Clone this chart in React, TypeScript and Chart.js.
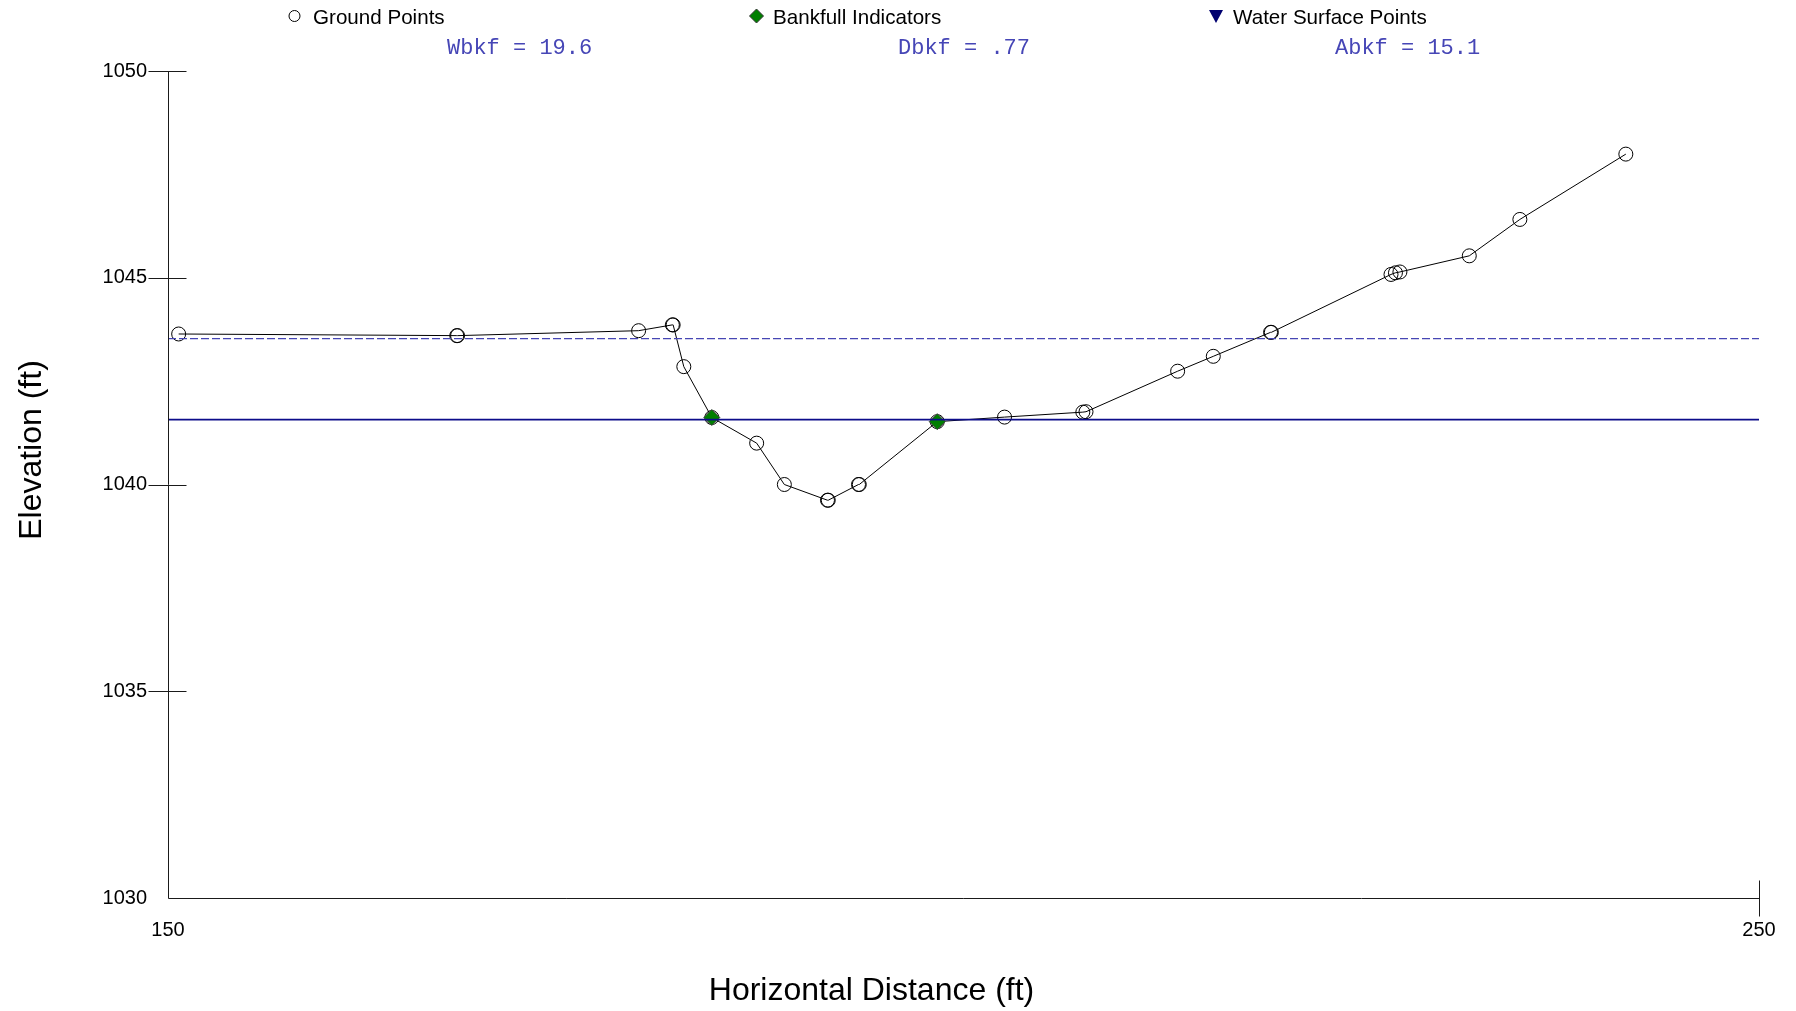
import { useEffect, useRef } from 'react';
import { Chart, registerables } from 'chart.js';

Chart.register(...registerables);

// ---------- data ----------
const groundX = [
  150.67, 168.15, 168.2, 179.58, 181.7, 181.75, 182.42, 184.18, 187.0, 188.74,
  191.45, 191.5, 193.4, 193.45, 198.35, 202.58, 207.5, 207.7, 213.46, 215.7,
  219.3, 219.35, 226.87, 227.15, 227.43, 231.79, 234.97, 241.63,
];
const groundY = [
  1043.64, 1043.6, 1043.6, 1043.72, 1043.86, 1043.86, 1042.85, 1041.62, 1041.0, 1040.0,
  1039.62, 1039.62, 1040.0, 1040.0, 1041.52, 1041.63, 1041.75, 1041.76, 1042.74, 1043.1,
  1043.68, 1043.68, 1045.08, 1045.12, 1045.14, 1045.53, 1046.41, 1047.99,
];
const bankfullX = [184.18, 198.35];
const bankfullY = [1041.62, 1041.52];
const waterSurfaceX: number[] = [];
const waterSurfaceY: number[] = [];
const bankfullElevation = 1041.57;
const floodproneElevation = 1043.53;

const xRange = [150, 250];
const yRange = [1030, 1050];
const xTickValues = [150, 250];
const yTickValues = [1030, 1035, 1040, 1045, 1050];

const legendLabels = ['Ground Points', 'Bankfull Indicators', 'Water Surface Points'];
const summaryLabels = ['Wbkf = 19.6', 'Dbkf = .77', 'Abkf = 15.1'];
const xTitle = 'Horizontal Distance (ft)';
const yTitle = 'Elevation (ft)';

// ---------- styles ----------
const SANS = 'Arial, "Liberation Sans", sans-serif';
const MONO = '"Liberation Mono", "Courier New", monospace';
const GREEN = '#007f00';
const NAVY = '#000070';
const SOLID_BLUE = '#0c0c8a';
const DASH_BLUE = '#4646b4';
const TEXT_BLUE = '#4646b6';

const toXY = (xs: number[], ys: number[]) => xs.map((x, i) => ({ x, y: ys[i] }));

const overlayPlugin = {
  id: 'overlay',
  afterDraw(chart: any) {
    const { ctx, chartArea: a, scales } = chart;
    const xs = scales.x;
    const ys = scales.y;
    ctx.save();

    // axes lines and tick marks
    ctx.strokeStyle = '#1a1a1a';
    ctx.lineWidth = 1;
    const lx = Math.round(a.left) + 0.5;
    const by = Math.round(a.bottom) + 0.5;
    ctx.beginPath();
    ctx.moveTo(lx, a.top);
    ctx.lineTo(lx, by);
    ctx.lineTo(a.right, by);
    for (const v of yTickValues) {
      if (v === yRange[0]) continue;
      const py = Math.round(ys.getPixelForValue(v)) + 0.5;
      ctx.moveTo(lx - 20, py);
      ctx.lineTo(lx + 18, py);
    }
    for (const v of xTickValues) {
      if (v === xRange[0]) continue;
      const px = Math.round(xs.getPixelForValue(v)) + 0.5;
      ctx.moveTo(px, by - 18);
      ctx.lineTo(px, by + 18);
    }
    ctx.stroke();

    // axis titles
    ctx.fillStyle = '#000';
    ctx.font = `32px ${SANS}`;
    ctx.textAlign = 'center';
    ctx.textBaseline = 'alphabetic';
    ctx.fillText(xTitle, 871.5, 1000);
    ctx.save();
    ctx.translate(41, 450);
    ctx.rotate(-Math.PI / 2);
    ctx.fillText(yTitle, 0, 0);
    ctx.restore();

    // legend
    const legendX = [294.5, 756.5, 1216];
    const legendTextX = [313, 773, 1233];
    const ly = 16;
    ctx.beginPath();
    ctx.arc(legendX[0], ly, 5.5, 0, Math.PI * 2);
    ctx.strokeStyle = '#000';
    ctx.lineWidth = 1;
    ctx.stroke();
    ctx.beginPath();
    ctx.moveTo(legendX[1], ly - 7);
    ctx.lineTo(legendX[1] + 7, ly);
    ctx.lineTo(legendX[1], ly + 7);
    ctx.lineTo(legendX[1] - 7, ly);
    ctx.closePath();
    ctx.fillStyle = GREEN;
    ctx.fill();
    ctx.strokeStyle = '#333';
    ctx.stroke();
    ctx.beginPath();
    ctx.moveTo(legendX[2] - 7, ly - 6);
    ctx.lineTo(legendX[2] + 7, ly - 6);
    ctx.lineTo(legendX[2], ly + 7);
    ctx.closePath();
    ctx.fillStyle = NAVY;
    ctx.fill();

    ctx.fillStyle = '#000';
    ctx.font = `20.6px ${SANS}`;
    ctx.textAlign = 'left';
    ctx.textBaseline = 'alphabetic';
    legendLabels.forEach((t, i) => ctx.fillText(t, legendTextX[i], 23.5));

    // summary annotations
    ctx.fillStyle = TEXT_BLUE;
    ctx.font = `22px ${MONO}`;
    const sx = [447, 898, 1335];
    summaryLabels.forEach((t, i) => ctx.fillText(t, sx[i], 54));

    ctx.restore();
  },
};

export default function App() {
  const canvasRef = useRef<HTMLCanvasElement | null>(null);

  useEffect(() => {
    const canvas = canvasRef.current;
    if (!canvas) return;
    const chart = new Chart(canvas, {
      type: 'scatter',
      data: {
        datasets: [
          {
            label: 'Bankfull stage',
            data: toXY(xRange, [bankfullElevation, bankfullElevation]),
            showLine: true,
            borderColor: SOLID_BLUE,
            borderWidth: 1.6,
            pointRadius: 0,
          },
          {
            label: 'Flood-prone',
            data: toXY(xRange, [floodproneElevation, floodproneElevation]),
            showLine: true,
            borderColor: DASH_BLUE,
            borderWidth: 1.2,
            borderDash: [8, 3],
            pointRadius: 0,
          },
          {
            label: legendLabels[1],
            data: toXY(bankfullX, bankfullY),
            pointStyle: 'rectRot',
            pointRadius: 8,
            pointBackgroundColor: GREEN,
            pointBorderColor: '#444',
            pointBorderWidth: 1,
            showLine: false,
          },
          {
            label: legendLabels[0],
            data: toXY(groundX, groundY),
            showLine: true,
            borderColor: '#000',
            borderWidth: 1,
            pointStyle: 'circle',
            pointRadius: 7,
            pointBackgroundColor: 'rgba(0,0,0,0)',
            pointBorderColor: '#000',
            pointBorderWidth: 1,
          },
          {
            label: legendLabels[2],
            data: toXY(waterSurfaceX, waterSurfaceY),
            pointStyle: 'triangle',
            rotation: 180,
            pointRadius: 7,
            pointBackgroundColor: NAVY,
            showLine: false,
          },
        ],
      },
      options: {
        animation: false,
        responsive: false,
        devicePixelRatio: 1,
        layout: { padding: { left: 0, top: 71, right: 37, bottom: 0 } },
        plugins: { legend: { display: false }, tooltip: { enabled: false } },
        scales: {
          x: {
            type: 'linear',
            min: xRange[0],
            max: xRange[1],
            afterFit: (s: any) => {
              s.height = 113;
            },
            afterBuildTicks: (s: any) => {
              s.ticks = xTickValues.map((v) => ({ value: v }));
            },
            grid: { display: false, drawTicks: false },
            border: { display: false },
            ticks: {
              padding: 20,
              autoSkip: false,
              maxRotation: 0,
              color: '#000',
              font: { family: SANS, size: 20 },
              callback: (v: any) => String(v),
            },
          },
          y: {
            type: 'linear',
            min: yRange[0],
            max: yRange[1],
            afterFit: (s: any) => {
              s.width = 168;
            },
            afterBuildTicks: (s: any) => {
              s.ticks = yTickValues.map((v) => ({ value: v }));
            },
            grid: { display: false, drawTicks: false },
            border: { display: false },
            ticks: {
              padding: 21,
              color: '#000',
              font: { family: SANS, size: 20 },
              callback: (v: any) => String(v),
            },
          },
        },
      },
      plugins: [overlayPlugin],
    } as any);
    return () => chart.destroy();
  }, []);

  return (
    <div style={{ position: 'fixed', left: 0, top: 0, width: 1796, height: 1011, background: '#fff' }}>
      <canvas ref={canvasRef} width={1796} height={1011} style={{ display: 'block' }} />
    </div>
  );
}
